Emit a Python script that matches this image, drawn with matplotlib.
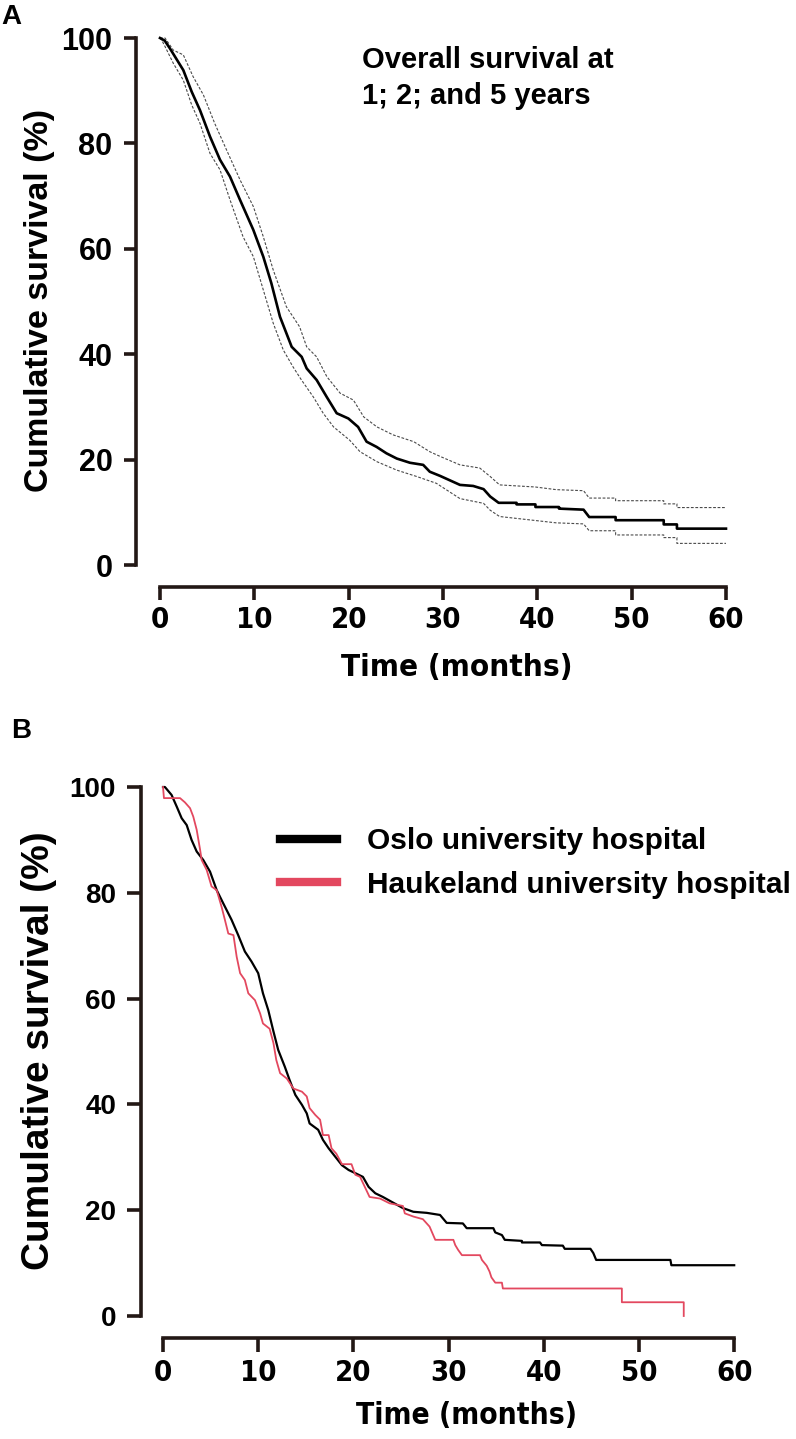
import matplotlib
matplotlib.use("Agg")
import matplotlib.pyplot as plt
from matplotlib import font_manager
from matplotlib.font_manager import FontProperties

W, H, DPI = 796, 1439, 100

# Panel A: overall survival (%) with 95% CI, time in months
a_t = [0, 0.5, 1.06, 2.47, 3.36, 4.24, 5.3, 6.36, 7.42, 8.48, 9.89, 10.95, 11.8, 12.72, 13.96,
       15.02, 15.55, 16.61, 17.67, 18.73, 19.97, 21.0, 21.9, 22.97, 24.0, 25.1, 26.5, 27.9, 28.6,
       29.7, 31.8, 33.2, 34.3, 35.0, 35.9, 37.8, 37.8, 39.8, 39.8, 42.3, 42.3, 44.9, 45.5, 48.3,
       48.3, 53.4, 53.4, 54.8, 54.8, 60]
a_s = [100, 99.5, 98.0, 93.9, 89.8, 86.3, 81.3, 76.9, 73.7, 69.3, 63.6, 58.5, 53.5, 47.1, 41.4,
       39.5, 37.3, 35.1, 31.9, 28.8, 27.8, 26.2, 23.4, 22.4, 21.2, 20.2, 19.4, 19.0, 17.7,
       16.9, 15.2, 15.0, 14.4, 13.0, 11.8, 11.8, 11.5, 11.5, 11.0, 11.0, 10.7, 10.5, 9.1, 9.1,
       8.5, 8.5, 7.7, 7.7, 6.9, 6.9]

a_up_t = [0, 0.53, 1.41, 2.47, 3.5, 4.6, 5.8, 7.07, 8.48, 9.9, 10.95, 12.0, 13.4, 14.8, 15.55,
          16.6, 17.7, 19.1, 20.5, 21.6, 23.0, 24.7, 26.9, 28.6, 29.7, 31.8, 33.9, 35.0, 36.0,
          39.8, 42.0, 44.9, 45.5, 48.3, 48.3, 53.4, 53.4, 54.8, 54.8, 60]
a_up_s = [100, 100, 97.7, 96.8, 92.7, 89.2, 83.8, 78.7, 73.1, 68.0, 62.3, 56.0, 49.0, 45.2, 41.4,
          39.5, 35.7, 32.6, 31.3, 28.1, 26.2, 24.7, 23.4, 21.5, 20.6, 19.0, 18.4, 16.8, 15.2,
          14.8, 14.3, 14.1, 12.7, 12.7, 12.2, 12.2, 11.6, 11.6, 10.9, 10.9]

a_lo_t = [0, 0.18, 0.53, 1.41, 2.47, 3.36, 4.24, 5.3, 6.36, 7.42, 8.8, 9.9, 10.95, 12.0, 13.07,
          14.1, 15.0, 16.25, 17.3, 18.4, 20.1, 21.2, 23.0, 25.1, 27.2, 29.3, 31.8, 34.3, 35.0,
          36.0, 38.5, 42.0, 44.9, 45.5, 48.3, 48.3, 53.4, 53.4, 54.8, 54.8, 60]
a_lo_s = [100, 99.6, 98.4, 95.2, 92.0, 87.3, 83.8, 78.1, 75.0, 69.3, 62.3, 58.5, 52.2, 45.9, 40.8,
          37.6, 35.1, 31.9, 28.8, 26.2, 23.7, 21.5, 19.6, 18.0, 16.8, 15.5, 12.6, 11.7, 10.4,
          9.2, 8.7, 8.0, 7.8, 6.5, 6.5, 5.7, 5.7, 5.2, 5.2, 4.1, 4.1]

# Panel B: survival by hospital
oslo_t = [0, 0.2, 0.9, 1.44, 1.96, 2.49, 3.0, 3.54, 4.23, 4.94, 5.64, 6.33, 7.2, 7.9, 8.6, 9.3,
          10.0, 10.5, 11.06, 11.6, 12.1, 12.8, 13.3, 13.9, 14.6, 15.1, 15.4, 16.3, 16.8, 17.4,
          18.1, 18.8, 19.5, 20.2, 21.0, 21.6, 22.3, 23.1, 24.0, 25.2, 26.3, 27.7, 29.1, 29.8,
          31.5, 31.9, 34.7, 34.9, 35.6, 35.9, 37.7, 37.7, 39.6, 39.8, 42.0, 42.2, 44.9, 45.2,
          45.5, 53.3, 53.4, 60]
oslo_s = [100, 100, 98.5, 96.3, 94.1, 92.8, 90.0, 87.8, 86.2, 84.0, 80.5, 78.0, 74.9, 72.0, 68.9,
          67.0, 64.8, 61.0, 57.8, 53.8, 50.3, 47.1, 44.6, 41.8, 39.9, 38.3, 36.4, 35.2, 33.3,
          31.7, 30.1, 28.5, 27.6, 27.0, 26.3, 24.4, 23.2, 22.5, 21.6, 20.4, 19.7, 19.5, 19.1,
          17.6, 17.5, 16.6, 16.6, 15.8, 15.3, 14.4, 14.2, 13.9, 13.9, 13.4, 13.3, 12.7, 12.7,
          11.9, 10.6, 10.6, 9.6, 9.6]

hauk_t = [0, 0.1, 1.79, 2.3, 2.84, 3.18, 3.54, 3.9, 4.06, 4.59, 5.1, 5.64, 6.16, 6.5, 6.86, 7.4,
          7.74, 8.1, 8.6, 8.96, 9.66, 10.2, 10.5, 11.2, 11.6, 11.9, 12.3, 13.0, 13.7, 14.6, 15.1,
          15.4, 16.0, 16.5, 16.8, 17.4, 17.7, 18.2, 18.8, 19.8, 20.2, 20.7, 21.2, 21.7, 22.8,
          23.8, 25.2, 25.4, 26.3, 27.3, 28.0, 28.6, 30.5, 30.7, 31.0, 31.4, 33.3, 33.5, 34.0,
          34.3, 34.5, 34.9, 35.6, 35.7, 48.2, 48.2, 54.7, 54.7]
hauk_s = [100, 97.9, 97.9, 97.1, 96.0, 94.4, 91.9, 88.1, 86.2, 84.3, 81.2, 80.5, 77.3, 74.9, 72.3,
          72.0, 67.9, 64.8, 63.5, 61.0, 59.7, 57.2, 55.3, 54.3, 51.6, 48.4, 45.9, 44.9, 43.0, 42.4,
          41.5, 39.3, 38.0, 37.1, 34.2, 34.2, 31.7, 30.7, 28.7, 28.7, 26.7, 26.3, 24.4, 22.5,
          22.2, 21.3, 20.8, 19.4, 18.8, 18.3, 16.9, 14.4, 14.4, 13.4, 12.5, 11.5, 11.5, 10.6,
          9.5, 8.4, 7.3, 6.3, 6.3, 5.2, 5.2, 2.6, 2.6, 0]

x_ticks = [0, 10, 20, 30, 40, 50, 60]
y_ticks = [0, 20, 40, 60, 80, 100]
group_labels = ["Oslo university hospital", "Haukeland university hospital"]

AXCOL = "#231815"
RED = "#e3485f"

names = {f.name for f in font_manager.fontManager.ttflist}
SANS = "Liberation Sans" if "Liberation Sans" in names else "DejaVu Sans"
plt.rcParams["font.family"] = [SANS, "DejaVu Sans"]


def condensed_bold(size):
    # look for an installed narrow / condensed bold face, fall back to regular bold
    best = None
    for f in font_manager.fontManager.ttflist:
        tag = (f.name + " " + f.fname).lower()
        narrow = "narrow" in tag or "condensed" in tag or f.stretch in ("condensed", "semi-condensed")
        bold = f.weight in ("bold", 700) or "bold" in f.fname.lower()
        if narrow and bold and "oblique" not in tag and "italic" not in tag:
            if best is None or "liberation" in tag:
                best = f.fname
    if best:
        return FontProperties(fname=best, size=size)
    return FontProperties(family=SANS, weight="bold", size=size)


def fx(px):
    return px / W


def fy(py):
    return 1 - py / H


def make_axes(fig, spine_x, axis_y, x0, xs, y0, ys, right, top, ysize, tick_len):
    ax = fig.add_axes([fx(spine_x), fy(axis_y), (right - spine_x) / W, (axis_y - top) / H])
    ax.set_xlim((spine_x - x0) / xs, (right - x0) / xs)
    ax.set_ylim((y0 - axis_y) / ys, (y0 - top) / ys)
    for side in ["top", "right"]:
        ax.spines[side].set_visible(False)
    for side in ["left", "bottom"]:
        ax.spines[side].set_linewidth(2.6)
        ax.spines[side].set_color(AXCOL)
    ax.spines["left"].set_bounds(0, 100)
    ax.spines["bottom"].set_bounds(0, 60)
    ax.set_xticks(x_ticks)
    ax.set_yticks(y_ticks)
    ax.tick_params(axis="both", direction="out", length=tick_len, width=2.6, color=AXCOL)
    ax.tick_params(axis="y", pad=8)
    ax.tick_params(axis="x", pad=5)
    for lbl in ax.get_yticklabels():
        lbl.set_fontsize(ysize)
        lbl.set_fontweight("bold")
    for lbl in ax.get_xticklabels():
        lbl.set_fontproperties(condensed_bold(21))
    return ax


fig = plt.figure(figsize=(W / DPI, H / DPI), dpi=DPI)

# ---- Panel A
axA = make_axes(fig, 136, 587, 160, 9.433, 565, 5.27, 745, 30, 22, 9)
axA.plot(a_up_t, a_up_s, color="#4a4a4a", lw=0.8, ls=(0, (2.5, 1.5)))
axA.plot(a_lo_t, a_lo_s, color="#4a4a4a", lw=0.8, ls=(0, (2.5, 1.5)))
axA.plot(a_t, a_s, color="black", lw=1.9)

fig.text(fx(1), fy(24), "A", fontsize=20, fontweight="bold", va="baseline")
fig.text(fx(362), fy(68), "Overall survival at", fontsize=21, fontweight="bold", va="baseline")
fig.text(fx(362), fy(104), "1; 2; and 5 years", fontsize=21, fontweight="bold", va="baseline")
fig.text(fx(40), fy(300), "Cumulative survival (%)", fontsize=24.5, fontweight="bold",
         rotation=90, ha="center", va="center")
fig.text(fx(457), fy(667), "Time (months)", fontproperties=condensed_bold(22.5),
         ha="center", va="center")

# ---- Panel B
axB = make_axes(fig, 141, 1338, 163, 9.52, 1316, 5.29, 745, 780, 20, 10)
axB.plot(oslo_t, oslo_s, color="black", lw=1.6, label=group_labels[0])
axB.plot(hauk_t, hauk_s, color=RED, lw=1.3, label=group_labels[1])

leg = axB.legend(loc="upper left", bbox_to_anchor=(fx(280), fy(827)),
                 bbox_transform=fig.transFigure, frameon=False, borderpad=0,
                 borderaxespad=0, handlelength=1.9, handletextpad=1.0,
                 labelspacing=0.52, prop={"size": 21.5, "weight": "bold"})
for line in leg.get_lines():
    line.set_linewidth(6)

fig.text(fx(21), fy(738), "B", fontsize=20, fontweight="bold", ha="center", va="baseline")
fig.text(fx(39), fy(1051), "Cumulative survival (%)", fontsize=28, fontweight="bold",
         rotation=90, ha="center", va="center")
fig.text(fx(466), fy(1415), "Time (months)", fontproperties=condensed_bold(21.5),
         ha="center", va="center")

fig.savefig("out.png", dpi=DPI)
